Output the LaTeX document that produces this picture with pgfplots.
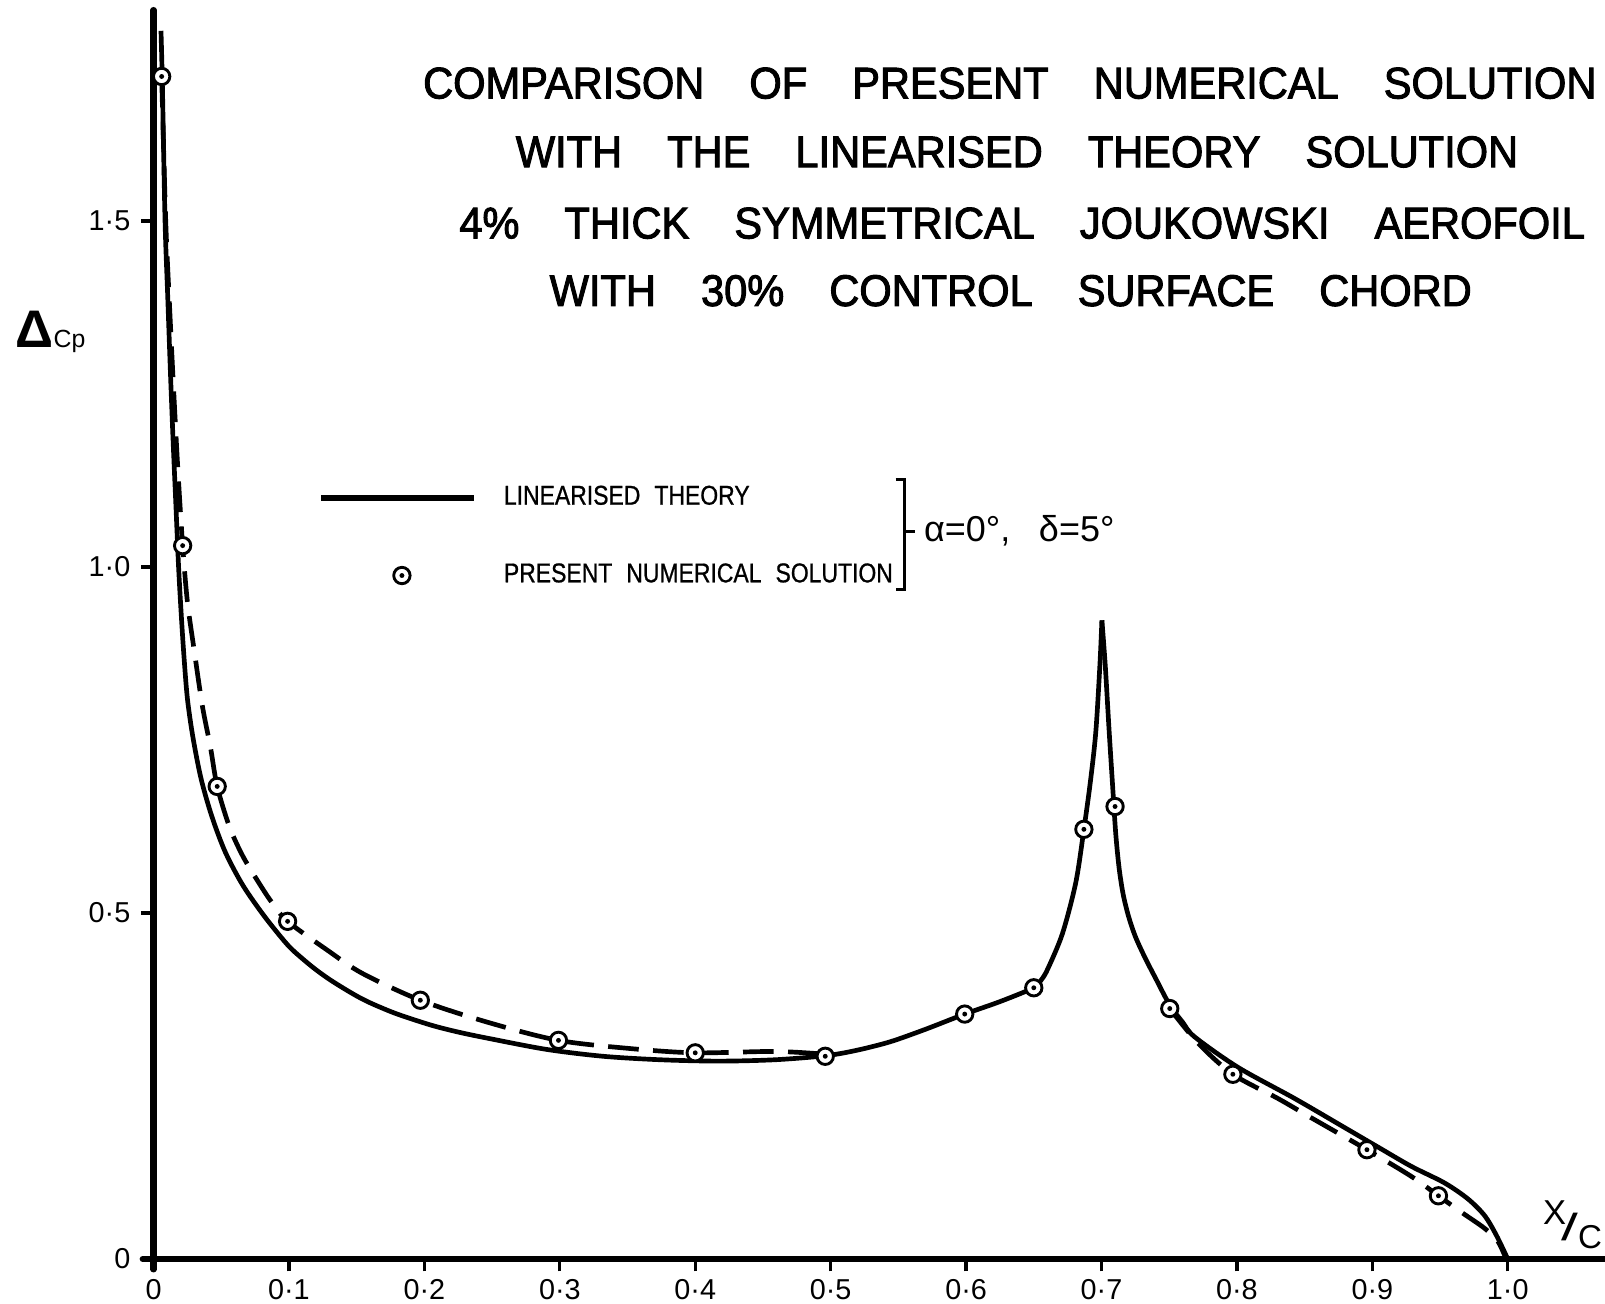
\documentclass[border=0pt]{standalone}
\usepackage{fontspec}
\setmainfont{Liberation Sans}
\newfontfamily\titlefont{Liberation Sans}[FakeStretch=0.94, WordSpace=3.9, FakeBold=2.2]
\newfontfamily\legfont{Liberation Sans}[FakeStretch=0.845, WordSpace=2.2, FakeBold=0.8]
\usepackage{pgfplots}
\pgfplotsset{compat=1.18}

% circle with a centre dot, white inside
\pgfdeclareplotmark{odot}{%
  \pgfpathcircle{\pgfpointorigin}{\pgfplotmarksize}%
  \pgfusepathqfillstroke
  \begin{pgfscope}%
    \pgfsetfillcolor{black}%
    \pgfpathcircle{\pgfpointorigin}{0.3\pgfplotmarksize}%
    \pgfusepathqfill
  \end{pgfscope}%
}

% linearised theory, leading edge to hinge peak
\pgfplotstableread{
x y
0.0055 1.775
0.0065 1.700
0.0085 1.500
0.0105 1.390
0.0125 1.280
0.0145 1.180
0.0165 1.090
0.0185 1.000
0.0205 0.930
0.0225 0.870
0.0250 0.810
0.0290 0.755
0.0350 0.695
0.0430 0.640
0.0530 0.588
0.0660 0.540
0.0820 0.495
0.0990 0.454
0.1100 0.434
0.1200 0.418
0.1300 0.404
0.1414 0.390
0.1520 0.378
0.1625 0.368
0.1800 0.354
0.2050 0.338
0.2250 0.328
0.2470 0.319
0.2900 0.303
0.3320 0.293
0.3740 0.288
0.4170 0.286
0.4590 0.288
0.4970 0.294
0.5200 0.302
0.5440 0.314
0.5700 0.332
0.5990 0.354
0.6250 0.372
0.6500 0.392
0.6550 0.402
0.6600 0.418
0.6711 0.470
0.6810 0.544
0.6870 0.621
0.6918 0.690
0.6958 0.762
0.6988 0.858
0.7003 0.923
}\linleft

% linearised theory, hinge peak to trailing edge
\pgfplotstableread{
x y
0.7003 0.923
0.7028 0.857
0.7057 0.761
0.7082 0.684
0.7105 0.615
0.7130 0.565
0.7160 0.527
0.7200 0.495
0.7250 0.466
0.7320 0.436
0.7404 0.404
0.7504 0.367
0.7600 0.342
0.7688 0.321
0.8008 0.277
0.8426 0.232
0.8795 0.190
0.9040 0.162
0.9287 0.134
0.9533 0.110
0.9705 0.087
0.9828 0.063
0.9914 0.035
1.0000 0.000
}\linright

% faired curve through the numerical solution, forward part
\pgfplotstableread{
x y
0.0060 1.709
0.0090 1.500
0.0120 1.370
0.0150 1.250
0.0180 1.140
0.0215 1.031
0.0250 0.950
0.0300 0.880
0.0360 0.800
0.0420 0.740
0.0470 0.683
0.0560 0.625
0.0660 0.582
0.0780 0.543
0.0875 0.515
0.0990 0.488
0.1286 0.446
0.1540 0.413
0.1970 0.374
0.2470 0.342
0.2990 0.316
0.3530 0.304
0.4000 0.298
0.4590 0.300
0.4960 0.296
}\numfwd

% faired curve through the numerical solution, control surface
\pgfplotstableread{
x y
0.7504 0.362
0.7713 0.312
0.7970 0.267
0.8303 0.232
0.8550 0.204
0.8960 0.158
0.9287 0.1195
0.9488 0.0914
0.9655 0.068
0.9828 0.0445
0.9926 0.0258
0.9988 0.000
}\numaft

% present numerical solution
\pgfplotstableread{
x y
0.0060 1.709
0.0215 1.031
0.0470 0.683
0.0990 0.488
0.1970 0.374
0.2990 0.316
0.4000 0.298
0.4960 0.293
0.5990 0.354
0.6500 0.392
0.6870 0.621
0.7100 0.654
0.7504 0.362
0.7970 0.267
0.8960 0.158
0.9488 0.0914
}\numpts

\begin{document}
\begin{tikzpicture}
\begin{axis}[
  x=132.3mm, y=67.6mm,
  xmin=0, xmax=1.072, ymin=0, ymax=1.805,
  axis x line=bottom, axis y line=left,
  axis line style={-, line width=1.7pt, line cap=round},
  xtick={0,0.1,0.2,0.3,0.4,0.5,0.6,0.7,0.8,0.9,1.0},
  xticklabels={0,0·1,0·2,0·3,0·4,0·5,0·6,0·7,0·8,0·9,1·0},
  ytick={0,0.5,1.0,1.5},
  yticklabels={0,0·5,1·0,1·5},
  tick align=outside,
  major tick length=1.2mm,
  tick style={line width=0.9pt, black},
  ticklabel style={font=\fontsize{8}{9}\selectfont},
  xticklabel style={inner sep=0.7mm},
  yticklabel style={inner sep=1.0mm},
  clip=false,
  legend style={
    at={(axis cs:0.1217,1.128)}, anchor=north west,
    draw=none, fill=none, inner sep=0pt, outer sep=0pt,
    row sep=3.8mm,
    font=\legfont\fontsize{7.55}{9}\selectfont,
    /tikz/every odd column/.append style={column sep=2.0mm},
  },
  legend cell align=left,
]
\coordinate (O) at (axis cs:0,0);

% short overshoots of the axis lines past the origin
\draw[line width=1.7pt, line cap=round] (axis cs:-0.008,0) -- (axis cs:0,0);
\draw[line width=1.7pt, line cap=round] (axis cs:0,-0.015) -- (axis cs:0,0);

\addplot[forget plot, smooth, tension=0.5, line width=1.3pt,
  dash pattern=on 3mm off 1.4mm] table[x=x,y=y] {\numfwd};
\addplot[forget plot, smooth, tension=0.5, line width=1.3pt,
  dash pattern=on 3mm off 1.4mm] table[x=x,y=y] {\numaft};

\addplot[smooth, tension=0.5, line width=1.3pt,
  legend image code/.code={\draw[line width=1.5pt] (0mm,0mm) -- (14.9mm,0mm);}]
  table[x=x,y=y] {\linleft};
\addlegendentry{LINEARISED THEORY}
\addplot[forget plot, smooth, tension=0.5, line width=1.3pt] table[x=x,y=y] {\linright};

\addplot[only marks, mark=odot, mark size=0.8mm,
  mark options={fill=white, draw=black, line width=0.8pt, solid},
  legend image code/.code={%
    \path[draw=none, fill=none] (0mm,0mm) -- (14.9mm,0mm);
    \draw[only marks] plot coordinates {(7.9mm,0mm)};}]
  table[x=x,y=y] {\numpts};
\addlegendentry{PRESENT NUMERICAL SOLUTION}

% bracket joining the two legend entries
\draw[line width=0.8pt] (axis cs:0.548,1.127) -- (axis cs:0.5548,1.127)
  -- (axis cs:0.5548,0.968) -- (axis cs:0.548,0.968);
\draw[line width=0.8pt] (axis cs:0.5548,1.051) -- (axis cs:0.5625,1.051);
\node[anchor=west, inner sep=0pt, font=\fontsize{10}{12}\selectfont]
  at (axis cs:0.5685,1.053) {α=0°,\hspace{2.8mm}δ=5°};

% title block
\node[font=\titlefont\fontsize{12.3}{14}\selectfont, inner sep=0pt]
  at (axis cs:0.6323,1.6993) {COMPARISON OF PRESENT NUMERICAL SOLUTION};
\node[font=\titlefont\fontsize{12.3}{14}\selectfont, inner sep=0pt]
  at (axis cs:0.6376,1.600) {WITH THE LINEARISED THEORY SOLUTION};
\node[font=\titlefont\fontsize{12.3}{14}\selectfont, inner sep=0pt]
  at (axis cs:0.6414,1.497) {4\% THICK SYMMETRICAL JOUKOWSKI AEROFOIL};
\node[font=\titlefont\fontsize{12.3}{14}\selectfont, inner sep=0pt]
  at (axis cs:0.6330,1.3994) {WITH 30\% CONTROL SURFACE CHORD};

% axis labels
\node[anchor=base west, inner sep=0pt] at (axis cs:-0.1023,1.3173)
  {{\bfseries\fontsize{14.7}{16}\selectfont Δ}{\fontsize{6.9}{8}\selectfont Cp}};
\node[anchor=base west, inner sep=0pt, font=\fontsize{9.6}{11}\selectfont]
  at (axis cs:1.0255,0.0493) {X};
\node[anchor=base west, inner sep=0pt, font=\fontsize{10.5}{12}\selectfont]
  at (axis cs:1.0395,0.0270) {\scalebox{1.6}[1]{/}};
\node[anchor=base west, inner sep=0pt, font=\fontsize{9.2}{11}\selectfont]
  at (axis cs:1.0515,0.0148) {C};
\end{axis}
\pgfresetboundingbox
\path (O) ++(-15mm,-4.3mm) rectangle ++(156.8mm,127.3mm);
\end{tikzpicture}
\end{document}
